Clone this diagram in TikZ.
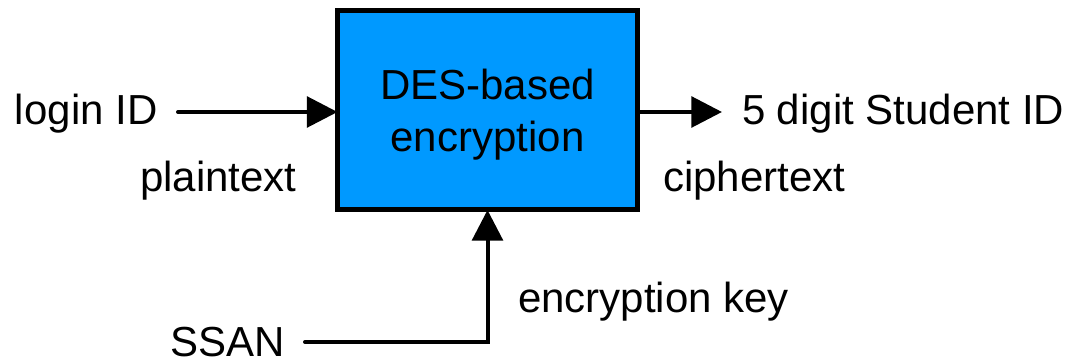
\documentclass[tikz,border=0pt]{standalone}
\usepackage{fontspec}
\setmainfont{Liberation Sans}
\usetikzlibrary{arrows.meta}
\definecolor{boxblue}{HTML}{0099FF}
\begin{document}
\begin{tikzpicture}[x=0.75pt,y=-0.75pt,
  lbl/.style={font=\fontsize{31.5}{37}\selectfont, inner sep=0pt, outer sep=0pt},
  arr/.style={line width=3pt, line cap=round, -{Triangle[length=23pt,width=23pt]}},
  encbox/.style={draw, line width=3.75pt, fill=boxblue, minimum width=225pt, minimum height=149.6pt, inner sep=0pt, outer sep=0pt}]
\useasboundingbox (0,0) rectangle (1072,363);
% box
\node[encbox] (box) at (487.5,110.25) {};
\node[lbl, anchor=base] (t1) at (487.5,100) {DES-based};
\node[lbl, anchor=base] (t2) at (487.5,152) {encryption};
% labels
\node[lbl, anchor=base west] (login) at (15,125) {login ID};
\node[lbl, anchor=base west] (plain) at (140,192) {plaintext};
\node[lbl, anchor=base west] (cipher) at (663,192) {ciphertext};
\node[lbl, anchor=base west] (sid) at (742,125) {5 digit Student ID};
\node[lbl, anchor=base west] (key) at (518,313) {encryption key};
\node[lbl, anchor=base west] (ssan) at (170,357) {SSAN};
% connectors
\coordinate (instart) at (178,112);
\coordinate (outend) at (722,112);
\coordinate (kstart) at (305,342);
\draw[arr] (instart) -- (instart -| box.west);
\draw[arr] (outend -| box.east) -- (outend);
\draw[arr, line join=miter] (kstart) -| (box.south);
\end{tikzpicture}
\end{document}
